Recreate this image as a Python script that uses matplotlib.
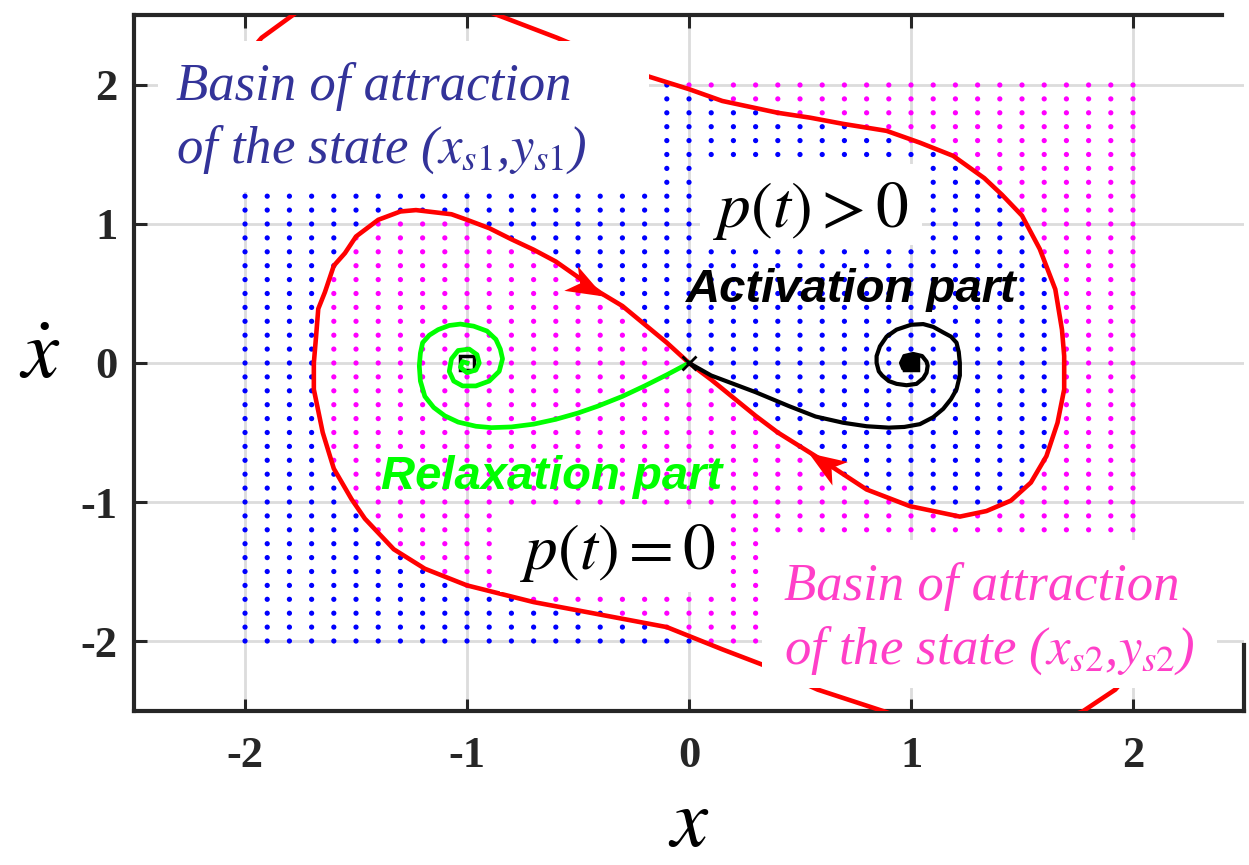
"""
Bacias de atracao no plano de fase (x, xdot) com a separatriz da sela,
trajetorias de relaxacao/ativacao e rotulos em caixas brancas.
"""
import numpy as np
import matplotlib
matplotlib.use("Agg")
import matplotlib.pyplot as plt
from matplotlib.patches import Rectangle
from matplotlib.path import Path
from matplotlib.markers import MarkerStyle
from matplotlib.transforms import Affine2D

plt.rcParams["mathtext.fontset"] = "stix"
plt.rcParams["axes.unicode_minus"] = False

# ---- dados -----------------------------------------------------------------
# grade de condicoes iniciais
GRID_X = np.linspace(-2.0, 2.0, 41)
GRID_Y = np.linspace(2.0, -2.0, 41)          # de cima para baixo

# cada linha: comprimentos de trechos alternados, comecando em azul
BASIN_RUNS = [
    [20, 21], [22, 19], [24, 17], [28, 13], [30, 11],
    [32, 9], [33, 8], [34, 7], [35, 6], [35, 6],                 # 2.0 .. 1.1
    [6, 5, 25, 5], [5, 7, 24, 5], [5, 9, 22, 5], [5, 10, 22, 4],
    [4, 12, 21, 4], [4, 13, 20, 4], [4, 14, 19, 4], [4, 14, 19, 4],
    [4, 15, 18, 4], [4, 16, 17, 4],                              # 1.0 .. 0.1
    [4, 17, 16, 4], [4, 17, 16, 4], [4, 18, 15, 4], [4, 19, 14, 4],
    [4, 20, 13, 4], [4, 21, 12, 4], [4, 21, 12, 4], [4, 22, 10, 5],
    [5, 22, 9, 5], [5, 23, 8, 5], [5, 25, 5, 6],                 # 0.0 .. -1.0
    [6, 35], [6, 35], [7, 34], [8, 33], [9, 32],
    [10, 31], [13, 28], [17, 24], [19, 22], [21, 20],            # -1.1 .. -2.0
]

# separatriz (variedade estavel da sela), dois ramos
SEP_A_X = [0.0, -0.10, -0.30, -0.40, -0.60, -0.70, -0.80, -0.90, -1.00, -1.07,
           -1.23, -1.30, -1.40, -1.50, -1.55, -1.60, -1.64, -1.67, -1.68, -1.69,
           -1.69, -1.65, -1.60, -1.52, -1.46, -1.33, -1.19, -1.00, -0.85, -0.70,
           -0.40, -0.10, 0.15, 0.33, 0.58, 0.886, 1.30, 1.77, 1.92, 2.00]
SEP_A_Y = [0.0, 0.146, 0.41, 0.506, 0.73, 0.815, 0.89, 0.97, 1.03, 1.07,
           1.10, 1.09, 1.03, 0.91, 0.79, 0.70, 0.51, 0.39, 0.19, 0.0,
           -0.19, -0.50, -0.76, -0.98, -1.12, -1.34, -1.48, -1.60, -1.66, -1.72,
           -1.81, -1.90, -2.06, -2.17, -2.35, -2.51, -2.75, -2.51, -2.35, -2.20]

SEP_B_X = [0.0, 0.10, 0.30, 0.40, 0.59, 0.80, 0.995, 1.22, 1.34, 1.45,
           1.54, 1.61, 1.66, 1.69, 1.69, 1.68, 1.65, 1.58, 1.50, 1.41,
           1.33, 1.19, 1.04, 0.89, 0.695, 0.545, 0.40, 0.15, 0.0, -0.18,
           -0.595, -0.89, -1.30, -1.77, -1.925, -2.00]
SEP_B_Y = [0.0, -0.12, -0.38, -0.50, -0.69, -0.91, -1.03, -1.105, -1.065, -0.99,
           -0.86, -0.67, -0.43, -0.19, 0.05, 0.24, 0.53, 0.82, 1.06, 1.21,
           1.33, 1.49, 1.585, 1.67, 1.72, 1.765, 1.80, 1.885, 1.97, 2.06,
           2.34, 2.52, 2.75, 2.52, 2.34, 2.20]

# setas sobre a separatriz: (centro da ponta, ponto para onde aponta)
ARROWS = [((-0.46, 0.55), (-0.30, 0.41)), ((0.61, -0.72), (0.40, -0.50))]

# trajetoria de relaxacao (verde) -> (-1, 0)
RELAX_X = [0.0, -0.10, -0.20, -0.30, -0.41, -0.50, -0.60, -0.70, -0.80, -0.89,
           -0.96, -1.04, -1.10, -1.15, -1.19, -1.21, -1.215, -1.21, -1.20, -1.17,
           -1.13, -1.08, -1.03, -0.97, -0.91, -0.87, -0.85, -0.84, -0.855, -0.90,
           -0.96, -1.02, -1.06, -1.08, -1.07, -1.04, -0.99, -0.955, -0.945, -0.96,
           -1.00, -1.03, -1.02, -1.00]
RELAX_Y = [0.0, -0.085, -0.165, -0.24, -0.31, -0.36, -0.405, -0.44, -0.46, -0.465,
           -0.455, -0.425, -0.38, -0.32, -0.24, -0.13, -0.02, 0.07, 0.146, 0.20,
           0.24, 0.27, 0.28, 0.265, 0.23, 0.17, 0.10, 0.03, -0.06, -0.13,
           -0.165, -0.165, -0.13, -0.06, 0.03, 0.09, 0.10, 0.06, 0.0, -0.05,
           -0.07, -0.03, 0.01, 0.0]

# trajetoria de ativacao (preta) -> (1, 0)
ACT_X = [0.0, 0.10, 0.30, 0.45, 0.57, 0.695, 0.80, 0.90, 0.97, 1.04,
         1.10, 1.145, 1.18, 1.205, 1.22, 1.22, 1.215, 1.205, 1.18, 1.145,
         1.10, 1.055, 1.00, 0.935, 0.89, 0.86, 0.845, 0.845, 0.855, 0.87,
         0.90, 0.935, 0.98, 1.025, 1.055, 1.07, 1.075, 1.07, 1.05, 1.01,
         0.97, 0.955, 0.965, 1.00, 1.03, 1.03, 1.00, 0.99]
ACT_Y = [0.0, -0.09, -0.21, -0.31, -0.385, -0.43, -0.455, -0.465, -0.46, -0.44,
         -0.39, -0.33, -0.26, -0.19, -0.09, 0.0, 0.08, 0.146, 0.19, 0.22,
         0.26, 0.28, 0.275, 0.24, 0.19, 0.12, 0.05, 0.0, -0.06, -0.09,
         -0.13, -0.15, -0.16, -0.15, -0.11, -0.07, -0.02, 0.01, 0.05, 0.065,
         0.05, 0.0, -0.04, -0.05, -0.03, 0.01, 0.02, 0.0]

# equilibrios estaveis: (x, y, preenchimento)
EQ_STABLE = [(-1.0, 0.0, "none"), (1.0, 0.0, "black")]
SADDLE = (0.0, 0.0)

TICKS = [-2, -1, 0, 1, 2]

BLUE = "#0000ff"
MAGENTA = "#ff00ff"
TXT_BLUE = "#333399"
TXT_PINK = "#ff3fc8"

# ponta de seta tipo "stealth"
HEAD = Path([(1.0, 0.0), (-1.0, 0.75), (-0.45, 0.0), (-1.0, -0.75), (1.0, 0.0)],
            [Path.MOVETO, Path.LINETO, Path.LINETO, Path.LINETO, Path.CLOSEPOLY])


def basin_colors():
    cores = []
    for runs in BASIN_RUNS:
        linha = []
        for k, n in enumerate(runs):
            linha += [BLUE if k % 2 == 0 else MAGENTA] * n
        cores.append(linha)
    return cores


fig = plt.figure(figsize=(12.49, 8.65), dpi=100)
ax = fig.add_axes([0.1073, 0.1786, 0.8887, 0.8035])
ax.set_xlim(-2.5, 2.5)
ax.set_ylim(-2.5, 2.5)
ax.set_axisbelow(True)
ax.grid(True, color="#dcdcdc", linewidth=2.0)

# pontos das bacias
XX, YY = np.meshgrid(GRID_X, GRID_Y)
cores = np.array(basin_colors()).ravel()
ax.scatter(XX.ravel(), YY.ravel(), s=14, c=cores, linewidths=0, zorder=2)

# equilibrios
for ex, ey, face in EQ_STABLE:
    ax.plot(ex, ey, "s", ms=10, mfc=face, mec="black", mew=2.5, zorder=2.5)
ax.plot(*SADDLE, "x", ms=10, color="black", mew=2.0, zorder=3.5)

# separatriz
ax.plot(SEP_A_X, SEP_A_Y, color="red", lw=3.3, zorder=3)
ax.plot(SEP_B_X, SEP_B_Y, color="red", lw=3.3, zorder=3)
for centro, alvo in ARROWS:
    p0 = ax.transData.transform(centro)
    p1 = ax.transData.transform(alvo)
    ang = np.degrees(np.arctan2(p1[1] - p0[1], p1[0] - p0[0]))
    mk = MarkerStyle(HEAD, transform=Affine2D().rotate_deg(ang))
    ax.plot(*centro, marker=mk, ms=27, color="red", mew=0, zorder=3.2)

ax.plot(RELAX_X, RELAX_Y, color="#00ff00", lw=3.4, zorder=3)
ax.plot(ACT_X, ACT_Y, color="black", lw=3.0, zorder=3)

# caixas brancas atras dos rotulos
for (x0, y0, w, h) in [(-2.39, 1.23, 2.21, 1.09), (0.05, 0.85, 1.0, 0.58),
                       (-0.85, -1.65, 1.0, 0.60), (0.33, -2.34, 2.05, 1.07)]:
    ax.add_patch(Rectangle((x0, y0), w, h, facecolor="white", edgecolor="none",
                           zorder=4))

serif_it = dict(family="Liberation Serif", style="italic", fontsize=38, zorder=5)
ax.text(-2.31, 1.89, "Basin of attraction", color=TXT_BLUE, va="baseline", **serif_it)
ax.text(-2.31, 1.44, r"of the state ($x_{\mathit{s1}}$,$y_{\mathit{s1}}$)",
        color=TXT_BLUE, va="baseline", **serif_it)
ax.text(0.43, -1.705, "Basin of attraction", color=TXT_PINK, va="baseline", **serif_it)
ax.text(0.43, -2.165, r"of the state ($x_{\mathit{s2}}$,$y_{\mathit{s2}}$)",
        color=TXT_PINK, va="baseline", **serif_it)

ax.text(0.55, 0.98, r"$p(t)>0$", fontsize=47, ha="center", va="baseline", zorder=5)
ax.text(-0.32, -1.48, r"$p(t)=0$", fontsize=47, ha="center", va="baseline", zorder=5)

sans_bi = dict(family="Liberation Sans", style="italic", weight="bold",
               fontsize=34, ha="center", va="baseline", zorder=5)
ax.text(0.73, 0.44, "Activation part", color="black", **sans_bi)
ax.text(-0.62, -0.91, "Relaxation part", color="#00ff00", **sans_bi)

# eixos
ax.set_xticks(TICKS)
ax.set_yticks(TICKS)
ax.set_xticklabels([str(t) for t in TICKS])
ax.set_yticklabels([str(t) for t in TICKS])
for lab in ax.get_xticklabels() + ax.get_yticklabels():
    lab.set_family("Liberation Serif")
    lab.set_weight("bold")
    lab.set_fontsize(32)
    lab.set_color("#262626")
ax.tick_params(direction="in", length=9, width=2.2, color="#262626",
               top=True, right=False)
ax.tick_params(axis="x", pad=18)
ax.tick_params(axis="y", pad=12)

for lado in ["left", "bottom", "top", "right"]:
    ax.spines[lado].set_linewidth(3.0)
    ax.spines[lado].set_color("#262626")
ax.spines["top"].set_bounds(-2.5, 2.40)
ax.spines["right"].set_bounds(-2.5, -2.03)

ax.set_xlabel(r"$x$", fontsize=60, labelpad=5)
ax.set_ylabel(r"$\dot{x}$", fontsize=60, rotation=0, ha="center", va="center")
ax.yaxis.set_label_coords(-0.085, 0.512)

fig.savefig("out.png", dpi=100)
plt.close(fig)
